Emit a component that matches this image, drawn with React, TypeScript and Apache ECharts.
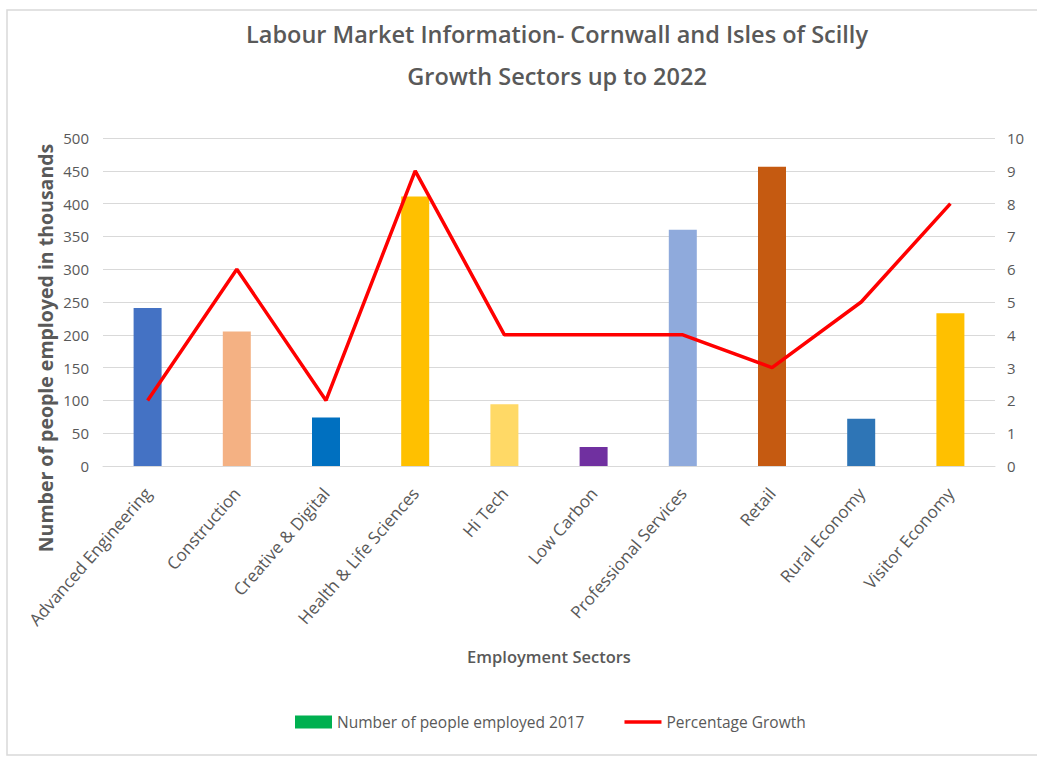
import React, { useEffect, useRef } from "react";
import * as echarts from "echarts";

const categories = [
  "Advanced Engineering",
  "Construction",
  "Creative & Digital",
  "Health & Life Sciences",
  "Hi Tech",
  "Low Carbon",
  "Professional Services",
  "Retail",
  "Rural Economy",
  "Visitor Economy",
];
const employed2017 = [241, 205, 74, 411, 94, 29, 360, 456, 72, 233];
const percentageGrowth = [2, 6, 2, 9, 4, 4, 4, 3, 5, 8];
const barColors = [
  "#4472C4",
  "#F4B183",
  "#0070C0",
  "#FFC000",
  "#FFD966",
  "#7030A0",
  "#8FAADC",
  "#C55A11",
  "#2E75B6",
  "#FFC000",
];

const FONT = "'Open Sans', 'Noto Sans', sans-serif";
const GREY = "#595959";

export default function App() {
  const ref = useRef<HTMLDivElement>(null);
  useEffect(() => {
    document.body.style.margin = "0";
    const chart = echarts.init(ref.current!, null, { renderer: "svg" });
    chart.setOption({
      animation: false,
      backgroundColor: "#ffffff",
      textStyle: { fontFamily: FONT },
      title: {
        text: "Labour Market Information- Cornwall and Isles of Scilly\nGrowth Sectors up to 2022",
        left: 552,
        top: 8,
        textAlign: "center",
        textStyle: {
          fontFamily: FONT,
          fontSize: 23.5,
          fontWeight: 600,
          color: GREY,
          lineHeight: 42,
        },
      },
      legend: {
        left: 290,
        top: 709,
        itemWidth: 37,
        itemHeight: 13,
        itemGap: 40,
        textStyle: { fontFamily: FONT, fontSize: 15.5, color: GREY },
        data: [
          { name: "Number of people employed 2017", icon: "rect" },
          { name: "Percentage Growth", icon: "path://M0,0L40,0L40,4L0,4Z" },
        ],
      },
      grid: { left: 103, right: 42, top: 138, bottom: 298 },
      xAxis: {
        type: "category",
        data: categories,
        name: "Employment Sectors",
        nameLocation: "middle",
        nameGap: 182,
        nameTextStyle: { fontFamily: FONT, fontSize: 16.5, fontWeight: 600, color: GREY },
        axisLine: { lineStyle: { color: "#D9D9D9", width: 1 } },
        axisTick: { show: false },
        axisLabel: {
          rotate: 49,
          interval: 0,
          fontFamily: FONT,
          fontSize: 17,
          color: GREY,
          margin: 24,
        },
      },
      yAxis: [
        {
          type: "value",
          min: 0,
          max: 500,
          interval: 50,
          axisLine: { show: false },
          axisTick: { show: false },
          splitLine: { lineStyle: { color: "#D9D9D9", width: 1 } },
          axisLabel: { fontFamily: FONT, fontSize: 15, color: GREY, margin: 14 },
        },
        {
          type: "value",
          min: 0,
          max: 10,
          interval: 1,
          axisLine: { show: false },
          axisTick: { show: false },
          splitLine: { show: false },
          axisLabel: { fontFamily: FONT, fontSize: 15, color: GREY, margin: 12 },
        },
      ],
      series: [
        {
          name: "Number of people employed 2017",
          type: "bar",
          barWidth: 28,
          itemStyle: { color: "#00B050" },
          data: employed2017.map((v, i) => ({ value: v, itemStyle: { color: barColors[i] } })),
        },
        {
          name: "Percentage Growth",
          type: "line",
          yAxisIndex: 1,
          symbol: "none",
          symbolKeepAspect: true,
          lineStyle: { color: "#FF0000", width: 3.5 },
          itemStyle: { color: "#FF0000" },
          data: percentageGrowth,
        },
      ],
      graphic: [
        {
          type: "rect",
          shape: { x: 7, y: 10, width: 1040, height: 745 },
          style: { fill: "none", stroke: "#D9D9D9", lineWidth: 1.5 },
          silent: true,
        },
        {
          type: "text",
          x: 45,
          y: 348,
          rotation: Math.PI / 2,
          style: {
            text: "Number of people employed in thousands",
            fontFamily: FONT,
            fontSize: 19.5,
            fontWeight: "bold",
            fill: GREY,
            align: "center",
            verticalAlign: "middle",
          },
        },
      ],
    });
    return () => chart.dispose();
  }, []);
  return <div ref={ref} style={{ width: 1037, height: 764 }} />;
}
